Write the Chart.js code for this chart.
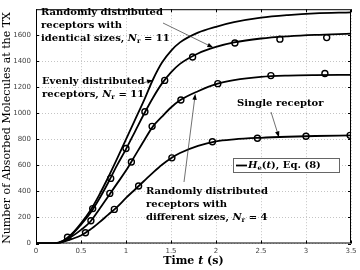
<!DOCTYPE html>
<html>
<head>
<meta charset="utf-8">
<script src="https://cdn.jsdelivr.net/npm/chart.js@4"></script>
<style>
  html, body { margin: 0; padding: 0; background: #fff; }
  #wrap { width: 360px; height: 270px; }
</style>
</head>
<body>
<div id="wrap"><canvas id="chart"></canvas></div>
<script>
// time axis of the analytic curves (s)
const timeGrid = [0, 0.1, 0.2, 0.3, 0.4, 0.5, 0.6, 0.7, 0.8, 0.9, 1.0, 1.1, 1.2, 1.3, 1.4, 1.5, 1.6, 1.8, 2.0, 2.2, 2.5, 2.8, 3.1, 3.5];

// H_e(t), Eq. (8) for each setup
const evenlyLine    = [0, 0, 0, 20, 75, 155, 250, 370, 505, 650, 800, 950, 1100, 1260, 1390, 1480, 1545, 1620, 1665, 1700, 1735, 1755, 1768, 1776];
const identicalLine = [0, 0, 0, 18, 70, 145, 230, 340, 465, 600, 725, 860, 995, 1120, 1230, 1315, 1380, 1460, 1510, 1545, 1575, 1592, 1603, 1612];
const differentLine = [0, 0, 0, 15, 55, 105, 165, 260, 360, 460, 560, 675, 790, 900, 975, 1045, 1100, 1170, 1225, 1255, 1280, 1290, 1294, 1296];
const singleLine    = [0, 0, 0, 12, 35, 62, 105, 160, 220, 280, 350, 415, 480, 545, 605, 655, 695, 750, 785, 800, 812, 820, 826, 831];

// simulation markers
const identicalSimT = [0.35, 0.63, 0.83, 1.0, 1.21, 1.43, 1.74, 2.21, 2.71, 3.23];
const identicalSim  = [48, 268, 500, 730, 1012, 1253, 1433, 1540, 1570, 1582];
const differentSimT = [0.61, 0.82, 1.06, 1.29, 1.61, 2.02, 2.61, 3.21];
const differentSim  = [175, 385, 626, 900, 1102, 1228, 1290, 1306];
const singleSimT    = [0.55, 0.87, 1.14, 1.51, 1.96, 2.46, 3.0, 3.49];
const singleSim     = [83, 262, 442, 658, 782, 809, 824, 831];

// tick labels
const xTicks = [0, 0.5, 1, 1.5, 2, 2.5, 3, 3.5];
const yTicks = [0, 200, 400, 600, 800, 1000, 1200, 1400, 1600];

const SERIF = '"DejaVu Serif", serif';

function toPoints(xs, ys) {
  return xs.map((x, i) => ({ x: x, y: ys[i] }));
}

function lineSet(ys) {
  return {
    data: toPoints(timeGrid, ys),
    borderColor: '#000',
    borderWidth: 1.8,
    pointRadius: 0,
    cubicInterpolationMode: 'monotone'
  };
}

function markerSet(xs, ys) {
  return {
    data: toPoints(xs, ys),
    showLine: false,
    pointRadius: 3,
    pointBorderWidth: 1.4,
    pointBorderColor: '#000',
    pointBackgroundColor: 'rgba(0,0,0,0)'
  };
}

// text with bold / italic / subscript parts
function drawRich(ctx, x, y, parts, size) {
  let cx = x;
  ctx.textBaseline = 'middle';
  ctx.textAlign = 'left';
  parts.forEach(([txt, st]) => {
    let dy = 0;
    let font = 'bold ' + size + 'px ' + SERIF;
    if (st === 'i') font = 'italic bold ' + size + 'px ' + SERIF;
    if (st === 's') { font = 'bold ' + (size * 0.68) + 'px ' + SERIF; dy = size * 0.3; }
    ctx.font = font;
    ctx.fillText(txt, cx, y + dy);
    cx += ctx.measureText(txt).width;
  });
  return cx;
}

function arrow(ctx, x1, y1, x2, y2) {
  const a = Math.atan2(y2 - y1, x2 - x1);
  ctx.save();
  ctx.strokeStyle = '#333';
  ctx.fillStyle = '#000';
  ctx.lineWidth = 0.7;
  ctx.beginPath();
  ctx.moveTo(x1, y1);
  ctx.lineTo(x2 - 4 * Math.cos(a), y2 - 4 * Math.sin(a));
  ctx.stroke();
  ctx.beginPath();
  ctx.moveTo(x2, y2);
  ctx.lineTo(x2 - 6 * Math.cos(a) + 2.2 * Math.sin(a), y2 - 6 * Math.sin(a) - 2.2 * Math.cos(a));
  ctx.lineTo(x2 - 6 * Math.cos(a) - 2.2 * Math.sin(a), y2 - 6 * Math.sin(a) + 2.2 * Math.cos(a));
  ctx.closePath();
  ctx.fill();
  ctx.restore();
}

const decorations = {
  id: 'decorations',
  afterDraw(chart) {
    const ctx = chart.ctx;
    const a = chart.chartArea;
    const xs = chart.scales.x, ys = chart.scales.y;
    ctx.save();

    // box and inward ticks
    ctx.strokeStyle = '#000';
    ctx.lineWidth = 1;
    ctx.strokeRect(a.left + 0.5, a.top + 0.5, a.right - a.left - 1, a.bottom - a.top - 1);
    ctx.beginPath();
    xTicks.forEach(t => {
      const px = Math.round(xs.getPixelForValue(t)) + 0.5;
      ctx.moveTo(px, a.bottom); ctx.lineTo(px, a.bottom - 3);
      ctx.moveTo(px, a.top); ctx.lineTo(px, a.top + 3);
    });
    yTicks.forEach(v => {
      const py = Math.round(ys.getPixelForValue(v)) + 0.5;
      ctx.moveTo(a.left, py); ctx.lineTo(a.left + 3, py);
      ctx.moveTo(a.right, py); ctx.lineTo(a.right - 3, py);
    });
    ctx.stroke();

    ctx.fillStyle = '#000';
    const fs = 10;
    const lh = 13;

    // randomly distributed, identical sizes
    drawRich(ctx, 41, 12, [['Randomly distributed', 'b']], fs);
    drawRich(ctx, 41, 12 + lh, [['receptors with', 'b']], fs);
    drawRich(ctx, 41, 12 + 2 * lh, [['identical sizes, ', 'b'], ['N', 'i'], ['r', 's'], [' = 11', 'b']], fs);
    arrow(ctx, 163, 23, xs.getPixelForValue(1.97), ys.getPixelForValue(1505));

    // evenly distributed
    drawRich(ctx, 42, 81, [['Evenly distributed', 'b']], fs);
    drawRich(ctx, 42, 81 + lh, [['receptors, ', 'b'], ['N', 'i'], ['r', 's'], [' = 11', 'b']], fs);
    arrow(ctx, 139, 84, xs.getPixelForValue(1.3), ys.getPixelForValue(1255));

    // single receptor
    drawRich(ctx, 237, 103, [['Single receptor', 'b']], fs);
    arrow(ctx, 271, 112, xs.getPixelForValue(2.7), ys.getPixelForValue(815));

    // randomly distributed, different sizes
    drawRich(ctx, 146, 191, [['Randomly distributed', 'b']], fs);
    drawRich(ctx, 146, 191 + lh, [['receptors with', 'b']], fs);
    drawRich(ctx, 146, 191 + 2 * lh, [['different sizes, ', 'b'], ['N', 'i'], ['r', 's'], [' = 4', 'b']], fs);
    arrow(ctx, 184, 182, xs.getPixelForValue(1.77), ys.getPixelForValue(1150));

    // legend
    ctx.fillStyle = '#fff';
    ctx.fillRect(233, 158, 106, 14);
    ctx.strokeStyle = '#666';
    ctx.lineWidth = 1;
    ctx.strokeRect(233.5, 158.5, 106, 14);
    ctx.strokeStyle = '#000';
    ctx.lineWidth = 1.8;
    ctx.beginPath();
    ctx.moveTo(236, 165.5); ctx.lineTo(247, 165.5);
    ctx.stroke();
    ctx.fillStyle = '#000';
    drawRich(ctx, 248, 165, [['H', 'i'], ['e', 's'], ['(', 'b'], ['t', 'i'], ['), Eq. (8)', 'b']], fs);

    // x title
    ctx.font = 'bold 11px ' + SERIF;
    const w1 = ctx.measureText('Time ').width;
    ctx.font = 'italic bold 11px ' + SERIF;
    const w2 = ctx.measureText('t').width;
    ctx.font = 'bold 11px ' + SERIF;
    const w3 = ctx.measureText(' (s)').width;
    const cx = (a.left + a.right) / 2 - (w1 + w2 + w3) / 2;
    drawRich(ctx, cx, 261, [['Time ', 'b'], ['t', 'i'], [' (s)', 'b']], 11);

    // y title
    ctx.save();
    ctx.translate(7.5, 128);
    ctx.rotate(-Math.PI / 2);
    ctx.font = '11px ' + SERIF;
    ctx.textAlign = 'center';
    ctx.textBaseline = 'middle';
    ctx.fillText('Number of Absorbed Molecules at the TX', 0, 0);
    ctx.restore();

    ctx.restore();
  }
};

new Chart(document.getElementById('chart'), {
  type: 'line',
  data: {
    datasets: [
      lineSet(evenlyLine),
      lineSet(identicalLine),
      lineSet(differentLine),
      lineSet(singleLine),
      markerSet(identicalSimT, identicalSim),
      markerSet(differentSimT, differentSim),
      markerSet(singleSimT, singleSim)
    ]
  },
  options: {
    responsive: true,
    maintainAspectRatio: false,
    animation: false,
    events: [],
    layout: { padding: { top: 2, right: 9, left: 0, bottom: 0 } },
    plugins: { legend: { display: false }, tooltip: { enabled: false } },
    scales: {
      x: {
        type: 'linear',
        min: 0,
        max: 3.5,
        afterBuildTicks: s => { s.ticks = xTicks.map(v => ({ value: v })); },
        afterFit: s => { s.height = 26.5; },
        ticks: { color: '#444', font: { size: 7, family: 'DejaVu Sans' }, padding: 3, maxRotation: 0, callback: v => String(v) },
        grid: { color: '#c4c4c4', drawTicks: false },
        border: { display: false, dash: [1, 2] }
      },
      y: {
        type: 'linear',
        min: 0,
        max: 1800,
        afterBuildTicks: s => { s.ticks = yTicks.map(v => ({ value: v })); },
        afterFit: s => { s.width = 36; },
        ticks: { color: '#444', font: { size: 7, family: 'DejaVu Sans' }, padding: 5, callback: v => String(v) },
        grid: { color: '#c4c4c4', drawTicks: false },
        border: { display: false, dash: [1, 2] }
      }
    }
  },
  plugins: [decorations]
});
</script>
</body>
</html>
